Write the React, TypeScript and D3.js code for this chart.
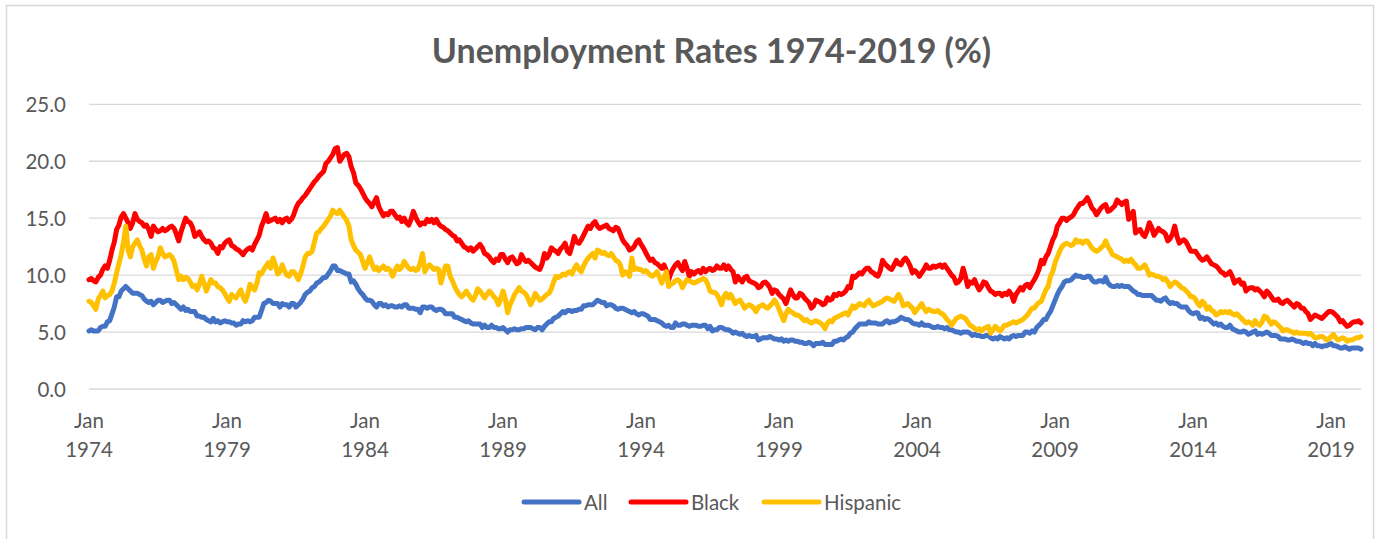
import React from "react";
import * as d3 from "d3";

// monthly, Jan 1974 .. Feb 2020 (one row per year)
const allRate = [
  5.1, 5.2, 5.1, 5.1, 5.1, 5.4, 5.5, 5.5, 5.9, 6.0, 6.6, 7.2,
  8.1, 8.1, 8.6, 8.8, 9.0, 8.8, 8.6, 8.4, 8.4, 8.4, 8.3, 8.2,
  7.9, 7.7, 7.6, 7.7, 7.4, 7.6, 7.8, 7.8, 7.6, 7.7, 7.8, 7.8,
  7.5, 7.6, 7.4, 7.2, 7.0, 7.2, 6.9, 7.0, 6.8, 6.8, 6.8, 6.4,
  6.4, 6.3, 6.3, 6.1, 6.0, 5.9, 6.2, 5.9, 6.0, 5.8, 5.9, 6.0,
  5.9, 5.9, 5.8, 5.8, 5.6, 5.7, 5.7, 6.0, 5.9, 6.0, 5.9, 6.0,
  6.3, 6.3, 6.3, 6.9, 7.5, 7.6, 7.8, 7.7, 7.5, 7.5, 7.5, 7.2,
  7.5, 7.4, 7.4, 7.2, 7.5, 7.5, 7.2, 7.4, 7.6, 7.9, 8.3, 8.5,
  8.6, 8.9, 9.0, 9.3, 9.4, 9.6, 9.8, 9.8, 10.1, 10.4, 10.8, 10.8,
  10.4, 10.4, 10.3, 10.2, 10.1, 10.1, 9.4, 9.5, 9.2, 8.8, 8.5, 8.3,
  8.0, 7.8, 7.8, 7.7, 7.4, 7.2, 7.5, 7.5, 7.3, 7.4, 7.2, 7.3,
  7.3, 7.2, 7.2, 7.3, 7.2, 7.4, 7.4, 7.1, 7.1, 7.1, 7.0, 7.0,
  6.7, 7.2, 7.2, 7.1, 7.2, 7.2, 7.0, 6.9, 7.0, 7.0, 6.9, 6.6,
  6.6, 6.6, 6.6, 6.3, 6.3, 6.2, 6.1, 6.0, 5.9, 6.0, 5.8, 5.7,
  5.7, 5.7, 5.7, 5.4, 5.6, 5.4, 5.4, 5.6, 5.4, 5.4, 5.3, 5.3,
  5.4, 5.2, 5.0, 5.2, 5.2, 5.3, 5.2, 5.2, 5.3, 5.3, 5.4, 5.4,
  5.4, 5.3, 5.2, 5.4, 5.4, 5.2, 5.5, 5.7, 5.9, 5.9, 6.2, 6.3,
  6.4, 6.6, 6.8, 6.7, 6.9, 6.9, 6.8, 6.9, 6.9, 7.0, 7.0, 7.3,
  7.3, 7.4, 7.4, 7.4, 7.6, 7.8, 7.7, 7.6, 7.6, 7.3, 7.4, 7.4,
  7.3, 7.1, 7.0, 7.1, 7.1, 7.0, 6.9, 6.8, 6.7, 6.8, 6.6, 6.5,
  6.6, 6.6, 6.5, 6.4, 6.1, 6.1, 6.1, 6.0, 5.9, 5.8, 5.6, 5.5,
  5.6, 5.4, 5.4, 5.8, 5.6, 5.6, 5.7, 5.7, 5.6, 5.5, 5.6, 5.6,
  5.6, 5.5, 5.5, 5.6, 5.6, 5.3, 5.5, 5.1, 5.2, 5.2, 5.4, 5.4,
  5.3, 5.2, 5.2, 5.1, 4.9, 5.0, 4.9, 4.8, 4.9, 4.7, 4.6, 4.7,
  4.6, 4.6, 4.7, 4.3, 4.4, 4.5, 4.5, 4.5, 4.6, 4.5, 4.4, 4.4,
  4.3, 4.4, 4.2, 4.3, 4.2, 4.3, 4.3, 4.2, 4.2, 4.1, 4.1, 4.0,
  4.0, 4.1, 4.0, 3.8, 4.0, 4.0, 4.0, 4.1, 3.9, 3.9, 3.9, 3.9,
  4.2, 4.2, 4.3, 4.4, 4.3, 4.5, 4.6, 4.9, 5.0, 5.3, 5.5, 5.7,
  5.7, 5.7, 5.7, 5.9, 5.8, 5.8, 5.8, 5.7, 5.7, 5.7, 5.9, 6.0,
  5.8, 5.9, 5.9, 6.0, 6.1, 6.3, 6.2, 6.1, 6.1, 6.0, 5.8, 5.7,
  5.7, 5.6, 5.8, 5.6, 5.6, 5.6, 5.5, 5.4, 5.4, 5.5, 5.4, 5.4,
  5.3, 5.4, 5.2, 5.2, 5.1, 5.0, 5.0, 4.9, 5.0, 5.0, 5.0, 4.9,
  4.7, 4.8, 4.7, 4.7, 4.6, 4.6, 4.7, 4.7, 4.5, 4.4, 4.5, 4.4,
  4.6, 4.5, 4.4, 4.5, 4.4, 4.6, 4.7, 4.6, 4.7, 4.7, 4.7, 5.0,
  5.0, 4.9, 5.1, 5.0, 5.4, 5.6, 5.8, 6.1, 6.1, 6.5, 6.8, 7.3,
  7.8, 8.3, 8.7, 9.0, 9.4, 9.5, 9.5, 9.6, 9.8, 10.0, 9.9, 9.9,
  9.8, 9.8, 9.9, 9.9, 9.6, 9.4, 9.4, 9.5, 9.5, 9.4, 9.8, 9.3,
  9.1, 9.0, 9.0, 9.1, 9.0, 9.1, 9.0, 9.0, 9.0, 8.8, 8.6, 8.5,
  8.3, 8.3, 8.2, 8.2, 8.2, 8.2, 8.2, 8.0, 7.8, 7.8, 7.7, 7.9,
  8.0, 7.7, 7.5, 7.6, 7.5, 7.5, 7.3, 7.2, 7.2, 7.2, 6.9, 6.7,
  6.6, 6.7, 6.7, 6.2, 6.3, 6.1, 6.2, 6.1, 5.9, 5.7, 5.8, 5.6,
  5.7, 5.5, 5.4, 5.4, 5.6, 5.3, 5.2, 5.1, 5.0, 5.0, 5.1, 5.0,
  4.8, 4.9, 5.0, 5.1, 4.8, 4.9, 4.8, 4.9, 5.0, 4.9, 4.7, 4.7,
  4.7, 4.6, 4.4, 4.4, 4.4, 4.3, 4.3, 4.4, 4.3, 4.2, 4.2, 4.1,
  4.0, 4.1, 4.0, 4.0, 3.8, 4.0, 3.8, 3.8, 3.7, 3.8, 3.8, 3.9,
  4.0, 3.8, 3.8, 3.7, 3.6, 3.6, 3.7, 3.6, 3.5, 3.6, 3.6, 3.6,
  3.6, 3.5,
];

const blackRate = [
  9.6, 9.7, 9.5, 9.4, 9.8, 10.0, 10.5, 10.8, 10.6, 11.3, 12.2, 12.9,
  14.0, 14.4, 15.1, 15.4, 15.0, 14.6, 14.1, 14.6, 15.4, 14.9, 14.7, 14.6,
  14.3, 14.4, 14.0, 13.4, 14.3, 14.0, 13.8, 13.9, 14.1, 13.9, 14.0, 14.2,
  14.3, 14.1, 13.6, 13.0, 13.8, 14.4, 15.0, 14.7, 14.6, 14.2, 13.4, 13.6,
  13.8, 13.4, 13.1, 12.9, 13.0, 12.8, 12.4, 12.3, 11.9, 12.5, 12.4, 12.8,
  13.0, 13.1, 12.6, 12.5, 12.3, 12.2, 12.0, 11.8, 12.1, 12.3, 12.4, 12.2,
  12.7, 13.1, 13.5, 14.3, 14.8, 15.4, 14.7, 14.8, 14.9, 15.0, 14.7, 14.9,
  14.6, 14.9, 15.0, 14.7, 14.9, 15.3, 15.9, 16.3, 16.5, 16.8, 17.0, 17.3,
  17.6, 17.9, 18.2, 18.4, 18.7, 18.9, 19.1, 19.8, 20.0, 20.3, 20.6, 21.1,
  21.2, 20.0, 20.3, 20.6, 20.7, 20.4, 19.5, 19.0, 18.1, 17.9, 17.6, 17.2,
  16.8, 16.5, 16.3, 16.0, 16.4, 16.8, 16.0, 15.6, 15.2, 15.4, 15.3, 15.6,
  15.6, 15.3, 15.0, 15.1, 14.7, 15.0, 14.6, 14.4, 14.9, 15.6, 15.1, 14.7,
  14.4, 14.6, 14.5, 14.9, 14.7, 14.9, 14.6, 14.9, 14.5, 14.3, 14.2, 14.0,
  13.9, 13.7, 13.5, 13.4, 13.0, 13.1, 12.8, 12.5, 12.4, 12.2, 12.4, 12.1,
  12.3, 12.5, 12.7, 12.4, 11.9, 11.8, 11.6, 11.3, 11.1, 11.4, 11.3, 11.8,
  11.8, 11.4, 11.1, 11.5, 11.6, 11.3, 11.0, 11.1, 11.8, 11.4, 11.2, 11.3,
  11.1, 10.9, 10.7, 10.6, 10.5, 11.0, 11.9, 11.5, 11.8, 12.4, 12.2, 12.1,
  11.9, 12.3, 12.5, 12.8, 12.1, 11.9, 12.6, 13.4, 12.9, 12.8, 13.1, 13.5,
  13.9, 14.3, 14.1, 14.5, 14.7, 14.3, 14.1, 14.2, 14.3, 14.4, 14.1, 14.0,
  13.9, 14.2, 14.1, 13.6, 13.1, 12.8, 12.6, 12.2, 12.3, 12.5, 12.9, 13.1,
  12.7, 12.4, 12.0, 11.6, 11.3, 11.4, 11.1, 11.0, 10.8, 10.6, 10.9, 10.4,
  9.6, 10.2, 10.6, 10.9, 11.1, 10.7, 10.4, 11.2, 10.6, 9.9, 10.3, 10.1,
  10.3, 10.4, 10.2, 10.6, 10.3, 10.5, 10.6, 10.4, 10.5, 10.8, 10.6, 10.6,
  10.9, 10.5, 10.8, 10.5, 10.3, 9.4, 9.9, 9.6, 9.4, 9.8, 9.9, 9.5,
  9.4, 9.3, 9.2, 8.9, 9.0, 9.3, 9.4, 9.2, 8.9, 8.4, 8.7, 8.6,
  8.3, 8.1, 7.9, 7.5, 8.1, 8.7, 8.3, 8.0, 8.0, 8.4, 8.3, 8.0,
  7.8, 7.6, 7.1, 7.3, 7.8, 7.7, 7.6, 7.4, 7.5, 8.0, 7.8, 7.9,
  8.3, 8.2, 8.4, 8.3, 8.4, 8.6, 9.0, 8.9, 9.9, 9.8, 10.0, 10.2,
  10.1, 10.4, 10.6, 10.6, 10.3, 10.2, 10.0, 9.9, 10.4, 11.3, 11.0, 10.8,
  10.6, 10.5, 10.9, 11.3, 11.0, 10.9, 11.3, 11.5, 11.2, 10.8, 10.2, 10.4,
  10.2, 9.9, 10.2, 10.5, 10.9, 10.6, 10.6, 10.8, 10.7, 10.8, 10.9, 10.7,
  10.9, 10.6, 10.3, 10.0, 9.8, 9.3, 9.4, 9.7, 10.6, 9.9, 9.0, 9.4,
  9.3, 9.6, 9.1, 8.7, 9.0, 9.4, 9.3, 8.9, 8.6, 8.5, 8.3, 8.4,
  8.4, 8.2, 8.4, 8.3, 8.6, 8.3, 7.7, 8.3, 8.6, 8.9, 8.7, 9.1,
  9.2, 8.9, 9.3, 9.6, 10.0, 10.5, 11.3, 11.0, 11.6, 11.9, 12.5, 13.1,
  13.5, 14.3, 14.6, 15.0, 15.0, 14.8, 15.0, 15.1, 15.3, 15.7, 16.0, 16.3,
  16.3, 16.5, 16.8, 16.4, 15.9, 15.7, 15.3, 15.6, 15.9, 16.1, 16.2, 15.6,
  15.7, 15.9, 16.1, 16.6, 16.4, 16.2, 16.4, 16.5, 14.9, 15.3, 15.6, 13.7,
  13.9, 14.0, 13.6, 13.4, 13.9, 14.6, 14.2, 13.5, 13.8, 14.1, 13.9, 13.8,
  13.6, 13.0, 13.2, 13.6, 14.3, 13.4, 12.8, 13.0, 13.1, 12.9, 12.5, 12.1,
  12.1, 12.1, 11.8, 11.5, 11.3, 11.4, 11.6, 11.3, 11.0, 10.9, 10.8, 10.6,
  10.3, 10.2, 10.0, 10.1, 10.3, 9.9, 9.3, 9.5, 9.6, 9.2, 9.3, 8.6,
  8.8, 8.9, 8.9, 8.7, 8.8, 8.6, 8.4, 8.1, 8.6, 8.4, 8.1, 7.8,
  7.8, 7.9, 7.6, 7.5, 7.7, 7.8, 7.6, 7.4, 7.2, 7.5, 7.4, 7.1,
  7.1, 6.8, 6.6, 6.1, 6.3, 6.5, 6.4, 6.3, 6.2, 6.4, 6.6, 6.8,
  6.8, 6.7, 6.5, 6.3, 5.9, 6.0, 5.7, 5.5, 5.6, 5.8, 5.9, 5.9,
  6.0, 5.8,
];

const hispanicRate = [
  7.7, 7.6, 7.3, 7.0, 7.9, 8.2, 8.6, 8.0, 8.2, 8.3, 8.6, 9.3,
  10.2, 11.0, 11.8, 12.9, 14.3, 12.2, 11.6, 12.5, 12.8, 13.1, 12.6, 12.2,
  11.4, 10.8, 11.6, 11.8, 10.6, 11.2, 11.6, 12.4, 11.9, 11.6, 11.7, 11.8,
  11.6, 11.2, 10.4, 9.6, 9.9, 9.6, 9.8, 9.7, 9.4, 9.0, 9.1, 8.7,
  9.2, 9.9, 9.3, 8.6, 9.1, 9.6, 9.3, 9.3, 9.0, 8.9, 8.7, 8.4,
  8.0, 7.7, 8.3, 8.1, 8.0, 8.4, 8.7, 8.1, 7.7, 8.3, 9.2, 8.9,
  8.7, 9.3, 10.2, 10.1, 10.5, 10.8, 11.1, 10.6, 11.5, 10.9, 10.1, 10.3,
  10.9, 10.4, 10.0, 9.9, 10.3, 10.3, 10.0, 9.6, 10.1, 10.8, 11.6, 11.9,
  11.9, 12.1, 12.9, 13.7, 13.8, 14.1, 14.3, 14.6, 14.9, 15.2, 15.7, 15.5,
  15.4, 15.7, 15.4, 15.1, 14.8, 14.3, 13.1, 12.6, 12.2, 12.0, 11.8, 11.2,
  10.6, 11.1, 11.6, 11.0, 10.5, 10.7, 10.4, 10.6, 10.8, 10.5, 10.6, 10.4,
  9.9, 10.4, 10.8, 10.5, 10.7, 11.2, 10.9, 10.6, 10.5, 10.6, 10.4, 10.5,
  11.1, 11.9, 10.3, 10.7, 10.9, 10.7, 10.5, 10.6, 10.5, 9.3, 10.1, 10.8,
  10.8, 9.9, 9.5, 9.0, 8.6, 8.3, 8.1, 8.3, 8.6, 8.3, 8.0, 7.8,
  8.2, 8.8, 8.6, 8.3, 8.0, 8.3, 8.6, 8.4, 8.1, 7.9, 7.4, 7.9,
  8.6, 7.9, 6.7, 7.4, 7.8, 8.3, 8.6, 8.9, 8.6, 8.5, 8.3, 7.9,
  7.4, 7.8, 8.4, 8.1, 7.8, 7.9, 8.1, 8.3, 8.4, 8.8, 9.4, 9.9,
  9.8, 9.9, 10.1, 10.0, 10.2, 10.3, 10.1, 10.6, 10.9, 10.5, 10.3, 10.8,
  11.2, 11.5, 11.7, 11.9, 11.5, 12.2, 12.1, 11.9, 12.0, 11.8, 11.7, 11.9,
  11.6, 11.3, 11.2, 10.9, 10.0, 10.3, 10.2, 9.9, 11.5, 10.5, 10.6, 10.5,
  10.5, 10.3, 10.4, 10.2, 10.0, 9.9, 10.1, 10.3, 9.8, 9.3, 9.8, 10.3,
  9.0, 9.2, 9.3, 9.5, 9.6, 9.4, 8.9, 9.3, 9.6, 9.5, 9.4, 9.3,
  9.4, 9.5, 9.6, 9.7, 9.6, 9.2, 8.6, 8.5, 8.5, 8.3, 7.9, 7.4,
  8.1, 8.4, 8.0, 8.3, 7.9, 7.5, 7.7, 7.8, 7.5, 7.1, 7.3, 7.4,
  7.3, 7.1, 6.8, 7.2, 7.3, 7.4, 7.2, 7.1, 7.3, 7.5, 7.8, 7.5,
  7.0, 6.5, 6.0, 6.6, 7.0, 6.8, 6.7, 6.5, 6.5, 6.4, 6.2, 6.0,
  6.1, 5.9, 5.8, 5.9, 6.0, 5.9, 5.8, 5.6, 5.3, 5.8, 6.0, 5.9,
  6.2, 6.3, 6.4, 6.5, 6.6, 6.7, 6.5, 6.9, 7.3, 7.1, 7.3, 7.5,
  7.4, 7.3, 7.6, 7.8, 7.5, 7.3, 7.4, 7.5, 7.6, 7.7, 7.9, 8.0,
  7.9, 7.8, 7.7, 8.0, 8.3, 7.9, 7.3, 7.4, 7.5, 7.3, 7.1, 6.7,
  7.0, 7.2, 7.5, 7.1, 6.8, 7.0, 6.9, 6.8, 6.8, 6.9, 6.7, 6.6,
  6.4, 6.1, 5.9, 5.6, 5.9, 6.2, 6.3, 6.4, 6.3, 6.2, 5.9, 5.6,
  5.5, 5.3, 5.2, 5.3, 5.1, 5.3, 5.4, 5.5, 4.9, 5.2, 5.5, 5.3,
  5.1, 5.3, 5.6, 5.6, 5.7, 5.8, 5.9, 5.8, 5.9, 6.0, 6.1, 6.3,
  6.5, 6.8, 7.1, 7.1, 7.4, 7.6, 7.7, 8.2, 8.7, 9.0, 9.9, 10.3,
  11.1, 11.6, 12.1, 12.5, 12.7, 12.8, 12.7, 12.6, 12.7, 13.1, 12.9, 13.0,
  12.8, 13.0, 13.0, 12.7, 12.4, 12.2, 12.1, 12.2, 12.4, 12.6, 13.0, 12.5,
  12.2, 11.8, 11.7, 11.6, 11.5, 11.4, 11.2, 11.3, 11.2, 11.4, 11.1, 10.9,
  10.6, 10.6, 10.7, 10.9, 10.5, 10.0, 10.1, 10.0, 9.9, 9.9, 9.8, 9.6,
  9.7, 9.4, 9.0, 9.2, 9.4, 9.3, 9.1, 8.9, 8.8, 8.6, 8.4, 8.1,
  8.1, 7.9, 7.5, 7.3, 7.7, 7.5, 7.0, 7.2, 6.9, 6.8, 6.5, 6.6,
  6.8, 6.7, 6.8, 6.7, 6.8, 6.6, 6.5, 6.6, 6.4, 6.2, 6.0, 5.8,
  5.9, 5.8, 5.6, 6.0, 5.7, 5.6, 5.9, 6.4, 6.3, 6.0, 5.7, 5.9,
  5.8, 5.6, 5.4, 5.1, 5.2, 5.2, 5.1, 5.0, 4.9, 5.0, 4.9, 4.9,
  4.9, 4.9, 4.8, 4.9, 4.7, 4.5, 4.5, 4.6, 4.6, 4.5, 4.3, 4.4,
  4.6, 4.8, 4.5, 4.3, 4.4, 4.5, 4.4, 4.2, 4.3, 4.3, 4.4, 4.5,
  4.5, 4.6,
];

const seriesNames = ["All", "Black", "Hispanic"];
const seriesColors = ["#4472C4", "#FF0000", "#FFC000"];
const yTickValues = [0, 5, 10, 15, 20, 25];

const months = d3.timeMonth.range(new Date(1974, 0, 1), new Date(1974, 0 + allRate.length, 1));
const labelEvery = 60;

const WIDTH = 1380;
const HEIGHT = 539;
const FONT = "Lato, 'Open Sans', sans-serif";
const TEXT_COLOR = "#595959";

export default function App() {
  const margin = { left: 89, right: 19, top: 104.3, bottom: 150 };

  const x = d3.scaleLinear([0, months.length - 1], [margin.left, WIDTH - margin.right]);
  const y = d3.scaleLinear([0, 25], [389, margin.top]);

  const line = d3.line<number>()
    .x((d, i) => x(i))
    .y((d) => y(d));

  const series = [allRate, blackRate, hispanicRate];
  const fmtMonth = d3.timeFormat("%b");
  const fmtYear = d3.timeFormat("%Y");

  // legend layout: [line start, text start]
  const legendItems = [
    { sx: 524, tx: 584 },
    { sx: 631, tx: 691 },
    { sx: 764, tx: 824 },
  ];
  const legendY = 502;

  return (
    <svg width={WIDTH} height={HEIGHT} style={{ display: "block", fontFamily: FONT }}>
      <style>{`body { margin: 0; }`}</style>
      <rect x={0} y={0} width={WIDTH} height={HEIGHT} fill="white" />
      <rect x={6.5} y={5.5} width={1367} height={560} fill="white" stroke="#D9D9D9" strokeWidth={1.5} />

      <text x={711.5} y={63} textAnchor="middle" fontSize={34} fontWeight="bold" fill={TEXT_COLOR}>
        Unemployment Rates 1974-2019 (%)
      </text>

      <g name="yTicks">
        {yTickValues.map((t) => (
          <g key={t}>
            <line x1={x.range()[0]} x2={x.range()[1]} y1={y(t)} y2={y(t)} stroke="#D9D9D9" strokeWidth={1.3} />
            <text x={66} y={y(t) + 7.5} textAnchor="end" fontSize={20.5} fill={TEXT_COLOR}>
              {t.toFixed(1)}
            </text>
          </g>
        ))}
      </g>

      <g name="xTicks">
        {months.map((m, i) => i % labelEvery === 0 ? (
          <text key={i} x={x(i)} textAnchor="middle" fontSize={20.5} fill={TEXT_COLOR}>
            <tspan x={x(i)} y={428}>{fmtMonth(m)}</tspan>
            <tspan x={x(i)} y={456.5}>{fmtYear(m)}</tspan>
          </text>
        ) : null)}
      </g>

      <g name="lines">
        {series.map((s, k) => (
          <path key={k} d={line(s)!} fill="none" stroke={seriesColors[k]}
            strokeWidth={5} strokeLinejoin="round" strokeLinecap="round" />
        ))}
      </g>

      <g name="legend">
        {seriesNames.map((name, k) => (
          <g key={name}>
            <line x1={legendItems[k].sx} x2={legendItems[k].sx + 55} y1={legendY} y2={legendY}
              stroke={seriesColors[k]} strokeWidth={5} strokeLinecap="round" />
            <text x={legendItems[k].tx} y={legendY + 7.5} fontSize={20.5} fill={TEXT_COLOR}>{name}</text>
          </g>
        ))}
      </g>
    </svg>
  );
}
